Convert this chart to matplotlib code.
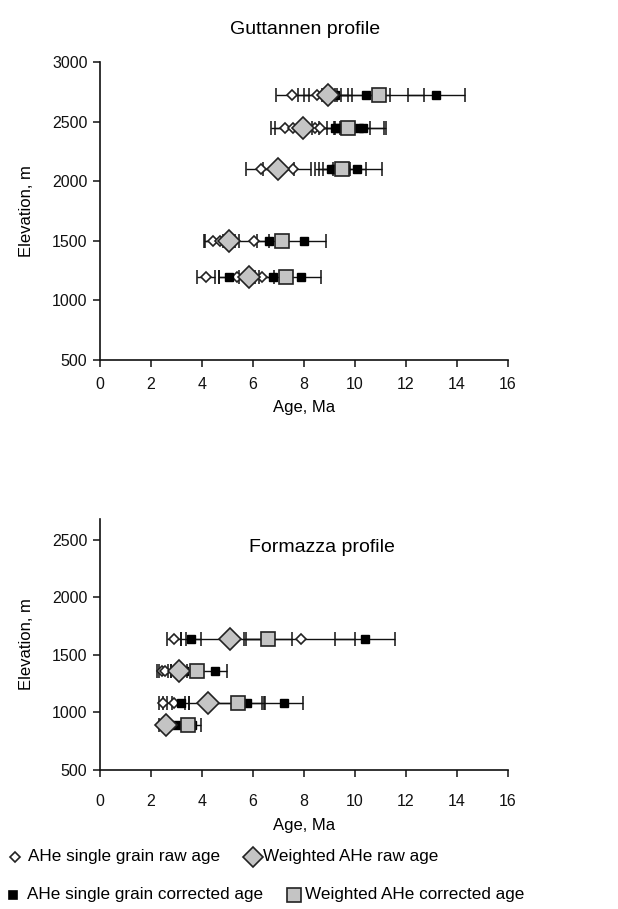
import matplotlib
matplotlib.use("Agg")
import matplotlib.pyplot as plt
from matplotlib.lines import Line2D

plt.rcParams['font.family'] = ['Liberation Sans', 'DejaVu Sans']

# ---------------- Guttannen profile ----------------
g_elev = [2720, 2450, 2100, 1500, 1200]
g_raw = [[7.55, 8.5, 8.95], [7.25, 7.58, 8.43, 8.63], [6.3, 7.0, 7.58],
         [4.45, 4.7, 6.04], [4.16, 5.39, 6.34]]
g_raw_err = [[0.66, 0.73, 0.95], [0.56, 0.72, 0.46, 0.6], [0.59, 0.6, 0.68],
             [0.37, 0.6, 0.58], [0.34, 0.71, 0.5]]
g_cor = [[9.22, 10.42, 11.0, 13.2], [9.2, 9.35, 10.15, 10.3], [9.05, 9.2, 9.6, 10.1],
         [6.64, 8.0], [5.07, 6.77, 7.9]]
g_cor_err = [[0.5, 0.95, 1.7, 1.1], [0.6, 1.25, 0.99, 0.9], [0.62, 0.6, 0.84, 0.95],
             [0.5, 0.85], [0.4, 0.55, 0.75]]
g_wraw = [8.93, 7.95, 7.0, 5.05, 5.85]
g_wraw_err = [0.0, 0.0, 0.0, 0.0, 0.0]
g_wcor = [10.95, 9.71, 9.5, 7.15, 7.3]
g_wcor_err = [0.0, 0.0, 0.0, 0.0, 0.0]

# ---------------- Formazza profile ----------------
f_elev = [1640, 1360, 1085, 890]
f_raw = [[2.9, 7.87], [2.45, 2.55, 3.1], [2.48, 2.9, 4.4], [2.5]]
f_raw_err = [[0.26, 2.13], [0.2, 0.23, 0.3], [0.15, 0.43, 0.9], [0.2]]
f_cor = [[3.56, 10.4], [3.3, 4.5], [3.16, 5.78, 7.2], [3.0, 3.6]]
f_cor_err = [[0.4, 1.17], [0.3, 0.47], [0.34, 0.56, 0.75], [0.25, 0.35]]
f_wraw = [5.1, 3.1, 4.25, 2.6]
f_wraw_err = [1.72, 0.0, 0.0, 0.0]
f_wcor = [6.6, 3.8, 5.4, 3.45]
f_wcor_err = [0.95, 0.0, 1.07, 0.0]

x_ticks = [0, 2, 4, 6, 8, 10, 12, 14, 16]

GRAY = '#c4c4c4'
EDGE = '#222222'

fig = plt.figure(figsize=(6.18, 9.09), dpi=100)
ax1 = fig.add_axes([0.1618, 0.604, 0.660, 0.3278])
ax2 = fig.add_axes([0.1618, 0.1529, 0.660, 0.2761])


def bars(ax, xs, ys, errs):
    pts = [(x, y, e) for x, y, e in zip(xs, ys, errs) if e > 0]
    if not pts:
        return
    ax.errorbar([p[0] for p in pts], [p[1] for p in pts], xerr=[p[2] for p in pts],
                fmt='none', ecolor='#111111', elinewidth=1.0, capsize=5,
                capthick=1.1, zorder=2)


def draw(ax, elev, raw, raw_err, cor, cor_err, wraw, wraw_err, wcor, wcor_err):
    for i, e in enumerate(elev):
        bars(ax, raw[i], [e] * len(raw[i]), raw_err[i])
        bars(ax, cor[i], [e] * len(cor[i]), cor_err[i])
    bars(ax, wraw, elev, wraw_err)
    bars(ax, wcor, elev, wcor_err)
    for i, e in enumerate(elev):
        ax.plot(raw[i], [e] * len(raw[i]), linestyle='none', marker='D',
                markersize=5.2, markerfacecolor='white', markeredgecolor=EDGE,
                markeredgewidth=1.2, zorder=3)
        ax.plot(cor[i], [e] * len(cor[i]), linestyle='none', marker='s',
                markersize=6.4, markerfacecolor='black', markeredgecolor='black',
                zorder=4)
    ax.plot(wraw, elev, linestyle='none', marker='D', markersize=11,
            markerfacecolor=GRAY, markeredgecolor=EDGE, markeredgewidth=1.2, zorder=5)
    ax.plot(wcor, elev, linestyle='none', marker='s', markersize=10.5,
            markerfacecolor=GRAY, markeredgecolor=EDGE, markeredgewidth=1.2, zorder=6)


draw(ax1, g_elev, g_raw, g_raw_err, g_cor, g_cor_err, g_wraw, g_wraw_err, g_wcor, g_wcor_err)
draw(ax2, f_elev, f_raw, f_raw_err, f_cor, f_cor_err, f_wraw, f_wraw_err, f_wcor, f_wcor_err)

for ax, xpad, xlp in ((ax1, 7, 6), (ax2, 12, 7)):
    ax.set_xlim(0, 16)
    ax.set_xticks(x_ticks)
    ax.set_xticklabels([str(t) for t in x_ticks])
    ax.spines['top'].set_visible(False)
    ax.spines['right'].set_visible(False)
    for s in ('left', 'bottom'):
        ax.spines[s].set_linewidth(1.2)
        ax.spines[s].set_color('#111111')
    ax.tick_params(direction='out', length=5, width=1.1, labelsize=11.5,
                   colors='#111111', pad=4)
    ax.tick_params(axis='x', pad=xpad)
    ax.set_xlabel('Age, Ma', fontsize=12, labelpad=xlp)
    ax.set_ylabel('Elevation, m', fontsize=12, labelpad=13)

ax1.set_ylim(500, 3000)
ax1.set_yticks([500, 1000, 1500, 2000, 2500, 3000])
ax2.set_ylim(500, 2680)
ax2.set_yticks([500, 1000, 1500, 2000, 2500])

fig.text(305 / 618, 1 - 30 / 909, 'Guttannen profile', ha='center', va='center',
         fontsize=14)
fig.text(322 / 618, 1 - 548 / 909, 'Formazza profile', ha='center', va='center',
         fontsize=14)


def fx(px):
    return px / 618


def fy(py):
    return 1 - py / 909


leg = [
    (15, 857, 'D', 4.8, 'white', 28, 'AHe single grain raw age'),
    (253, 857, 'D', 10.5, GRAY, 263, 'Weighted AHe raw age'),
    (13, 895, 's', 6.2, 'black', 27, 'AHe single grain corrected age'),
    (294, 895, 's', 10, GRAY, 305, 'Weighted AHe corrected age'),
]
for mx, my, m, ms, fc, tx, label in leg:
    ec = 'black' if fc == 'black' else EDGE
    fig.add_artist(Line2D([fx(mx)], [fy(my)], marker=m, markersize=ms,
                          markerfacecolor=fc, markeredgecolor=ec,
                          markeredgewidth=1.2, linestyle='none',
                          transform=fig.transFigure))
    fig.text(fx(tx), fy(my), label, ha='left', va='center', fontsize=12.3)

fig.savefig('out.png', dpi=100)
